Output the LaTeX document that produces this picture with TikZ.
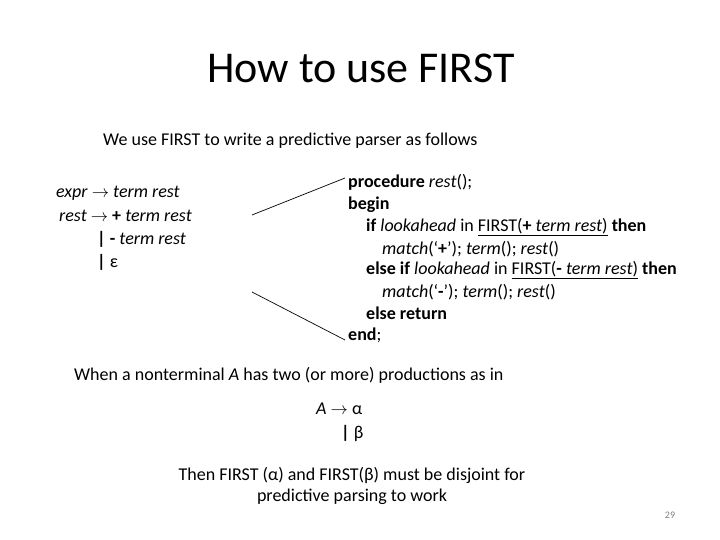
\documentclass[tikz,border=0pt]{standalone}
\usepackage{fontspec}
\setmainfont{Carlito}
\begin{document}
\begin{tikzpicture}[x=1pt,y=-1pt,
  txt/.style={anchor=west,inner sep=0pt,font=\fontsize{18}{20}\selectfont},
  ctr/.style={anchor=center,inner sep=0pt,font=\fontsize{18}{20}\selectfont}]
\useasboundingbox[fill=white] (0,0) rectangle (720,540);
\node[inner sep=0pt,font=\fontsize{44}{48}\selectfont] (title) at (361,68) {How to use FIRST};
\node[txt] (intro) at (103,141) {We use FIRST to write a predictive parser as follows};
\node[txt] (g1) at (56,193) {\textit{expr} $\rightarrow$ \textit{term rest}};
\node[txt] (g2) at (59,216) {\textit{rest} $\rightarrow$ \textbf{+} \textit{term rest}};
\node[txt] (g3) at (97,239) {\textbf{|} \textbf{-} \textit{term rest}};
\node[txt] (g4) at (97,262) {\textbf{|} ε};
\node[txt] (p1) at (348,182) {\textbf{procedure} \textit{rest}();};
\node[txt] (p2) at (348,205) {\textbf{begin}};
\node[txt] (p3) at (366,227) {\textbf{if} \textit{lookahead} in \underline{FIRST(\textbf{+} \textit{term rest})} \textbf{then}};
\node[txt] (p4) at (382,249) {\textit{match}(‘\textbf{+}’); \textit{term}(); \textit{rest}()};
\node[txt] (p5) at (366,270) {\textbf{else if} \textit{lookahead} in \underline{FIRST(\textbf{-} \textit{term rest})} \textbf{then}};
\node[txt] (p6) at (382,292) {\textit{match}(‘\textbf{-}’); \textit{term}(); \textit{rest}()};
\node[txt] (p7) at (366,313) {\textbf{else return}};
\node[txt] (p8) at (348,335) {\textbf{end};};
\coordinate (a1) at (252,215); \coordinate (a2) at (345,178);
\coordinate (b1) at (252,292); \coordinate (b2) at (345,340);
\draw[line width=0.7pt] (a1) -- (a2);
\draw[line width=0.7pt] (b1) -- (b2);
\node[txt] (w) at (74,375) {When a nonterminal \textit{A} has two (or more) productions as in};
\node[txt] (r1) at (316,409) {\textit{A} $\rightarrow$ α};
\node[txt] (r2) at (341,433) {\textbf{|} β};
\node[ctr] (t1) at (352,475) {Then FIRST (α) and FIRST(β) must be disjoint for};
\node[ctr] (t2) at (352,497) {predictive parsing to work};
\node[inner sep=0pt,font=\fontsize{10}{12}\selectfont,text=gray] (num) at (670,515) {29};
\end{tikzpicture}
\end{document}
